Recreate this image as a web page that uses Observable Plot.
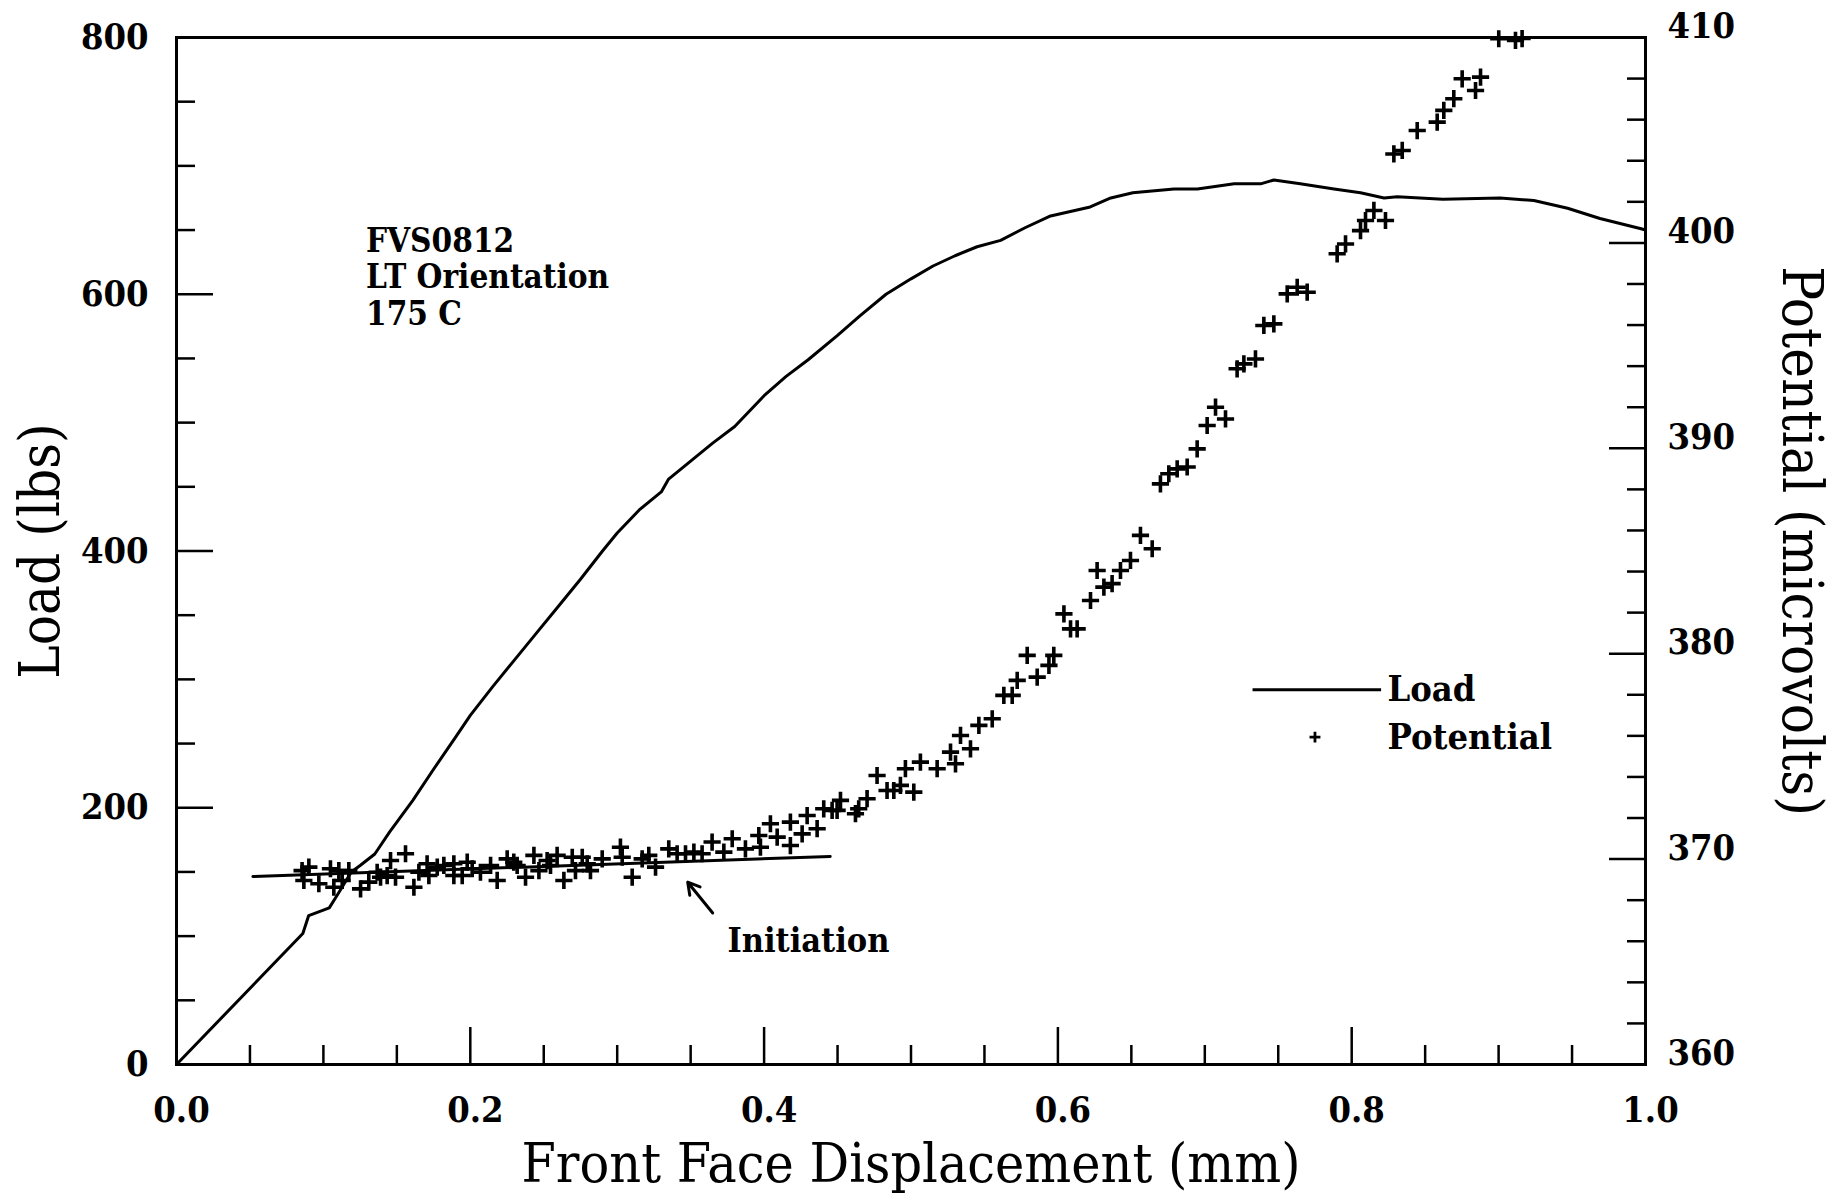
<!DOCTYPE html>
<html><head><meta charset="utf-8">
<script src="https://cdn.jsdelivr.net/npm/d3@7"></script>
<script src="https://cdn.jsdelivr.net/npm/@observablehq/plot@0.6"></script>
<style>
html,body{margin:0;padding:0;background:#fff;}
#chart svg{display:block;}
</style></head><body><div id="chart"></div>
<script>
// ---- Data ----
const loadX = [0, 0.086, 0.090, 0.104, 0.110, 0.119, 0.125, 0.135, 0.145, 0.152, 0.161, 0.175, 0.19, 0.2, 0.215, 0.23, 0.245, 0.26, 0.275, 0.29, 0.3, 0.315, 0.33, 0.335, 0.35, 0.365, 0.38, 0.4, 0.415, 0.43, 0.45, 0.465, 0.483, 0.5, 0.515, 0.53, 0.545, 0.561, 0.578, 0.595, 0.622, 0.636, 0.651, 0.679, 0.695, 0.720, 0.738, 0.747, 0.765, 0.788, 0.806, 0.822, 0.831, 0.862, 0.901, 0.924, 0.947, 0.969, 0.997, 1.0];
const loadLbs = [0, 102, 116, 122, 133, 150, 155, 164, 181, 192, 206, 230, 255, 272, 294, 315, 336, 357, 378, 400, 414, 432, 446, 456, 470, 484, 497, 521, 536, 549, 568, 583, 600, 612, 622, 630, 637, 642, 652, 661, 668, 675, 679, 682, 682, 686, 686, 689, 686, 682, 679, 675, 676, 674, 675, 673, 667, 659, 651, 650];

const potX = [0.0855,0.0901,0.0867,0.0969,0.1048,0.1071,0.1105,0.1173,0.1128,0.1253,0.1309,0.1366,0.1457,0.1559,0.1434,0.1491,0.1389,0.1616,0.1650,0.1706,0.1718,0.1775,0.1820,0.1888,0.1888,0.1945,0.1979,0.2013,0.2069,0.2138,0.2183,0.2251,0.2296,0.2319,0.2376,0.2433,0.2467,0.2523,0.2546,0.2591,0.2637,0.2694,0.2716,0.2762,0.2796,0.2818,0.2898,0.3022,0.3034,0.3102,0.3170,0.3215,0.3261,0.3351,0.3408,0.3465,0.3522,0.3578,0.3646,0.3726,0.3783,
0.3873,0.3975,0.3964,0.4043,0.4089,0.4179,0.4179,0.4259,0.4293,0.4361,0.4406,0.4463,0.4520,0.4497,0.4622,0.4644,0.4701,0.4769,0.4837,0.4883,0.4928,0.5019,0.4962,0.5064,0.5178,0.5269,0.5303,0.5337,0.5405,0.5462,
0.5553,0.5632,0.5689,0.5723,0.5791,0.5859,0.5939,0.5972,0.6041,0.6086,0.6131,0.6222,0.6313,0.6369,0.6267,0.6426,0.6494,0.6562,0.6642,0.6698,0.6755,0.6812,0.6880,
0.6948,0.7016,0.7073,0.7141,0.7220,0.7266,0.7345,0.7402,0.7470,0.7561,0.7629,0.7697,0.7901,0.7958,0.8060,0.8094,0.8151,0.8230,0.8287,0.8344,0.8446,
0.8582,0.8627,0.8695,0.8752,0.8843,0.8877,0.9001,0.9115,0.9160];
const potMicrovolts = [369.44,369.61,368.96,368.80,369.53,368.63,369.44,369.44,368.96,368.55,368.88,369.36,369.93,370.26,369.20,369.12,369.12,368.63,369.36,369.77,369.20,369.61,369.69,369.77,369.20,369.20,369.85,369.53,369.36,369.69,368.96,370.01,369.85,369.69,369.12,370.18,369.44,369.93,369.69,370.18,368.96,370.09,369.44,370.09,369.77,369.44,370.01,370.58,370.09,369.12,370.01,370.18,369.61,370.50,370.26,370.26,370.34,370.26,370.83,370.34,370.99,
370.50,370.58,371.15,371.72,371.07,370.66,371.80,371.23,372.12,371.48,372.45,372.37,372.86,372.37,372.21,372.45,372.94,374.07,373.34,373.34,373.59,373.26,374.40,374.72,374.40,375.21,374.64,376.02,375.37,376.51,
376.83,377.97,377.97,378.70,379.92,378.86,379.43,379.92,381.94,381.21,381.21,382.59,383.24,383.41,384.05,384.05,384.54,385.76,385.11,388.27,388.76,389.00,389.09,
389.97,391.11,392.00,391.43,393.87,394.11,394.35,395.98,396.06,397.52,397.84,397.60,399.47,399.95,400.60,401.09,401.58,401.09,404.33,404.50,405.47,
405.88,406.45,407.02,407.99,407.42,408.07,409.94,409.86,409.95];

const initiationX = [0.052, 0.445];
const initiationMicrovolts = [369.15, 370.13];

const xTicksMajor = [0, 0.2, 0.4, 0.6, 0.8, 1.0];
const xTicksMinor = [0.05,0.1,0.15,0.25,0.3,0.35,0.45,0.5,0.55,0.65,0.7,0.75,0.85,0.9,0.95];
const loadTicksMajor = [0, 200, 400, 600, 800];
const loadTicksMinor = [50,100,150,250,300,350,450,500,550,650,700,750];
const potTicksMajor = [360, 370, 380, 390, 400, 410];
const potTicksMinor = [362,364,366,368,372,374,376,378,382,384,386,388,392,394,396,398,402,404,406,408];

const xLabel = "Front Face Displacement (mm)";
const yLeftLabel = "Load (lbs)";
const yRightLabel = "Potential (microvolts)";
const specimenText = "FVS0812\nLT Orientation\n175 C";
const initiationText = "Initiation";
const legendNames = ["Load", "Potential"];

// ---- Helpers ----
const FONT = '"DejaVu Serif Condensed", "DejaVu Serif", serif';
const P0 = 360, P1 = 410, L0 = 0, L1 = 800;
const potToLoad = p => (p - P0) / (P1 - P0) * (L1 - L0) + L0;
const loadToPot = l => (l - L0) / (L1 - L0) * (P1 - P0) + P0;

const loadData = loadX.map((x, i) => ({x, y: loadLbs[i]}));
const potData = potX.map((x, i) => ({x, v: potMicrovolts[i]}));
const initData = initiationX.map((x, i) => ({x, v: initiationMicrovolts[i]}));

// annotation anchors (data coordinates)
const specimenNote = [{x: 0.129, y: 653, text: specimenText}];
const initNote = [{x: 0.375, y: 96, text: initiationText}];
const initArrow = [{x1: 0.365, y1: 118, x2: 0.348, y2: 142}];
const legendLine = [{x1: 0.7325, x2: 0.820, y: 292}];
const legendMarker = [{x: 0.775, y: 255}];
const legendText = [{x: 0.823, y: 292, text: legendNames[0]}, {x: 0.823, y: 255, text: legendNames[1]}];

const plot = Plot.plot({
  width: 1838,
  height: 1194,
  marginLeft: 176,
  marginRight: 193,
  marginTop: 37,
  marginBottom: 130,
  style: {fontFamily: FONT, fontStretch: "condensed", fontSize: "36px", background: "white", color: "black", overflow: "visible"},
  x: {domain: [0, 1]},
  y: {domain: [0, 800]},
  marks: [
    // minor & major ticks (inward)
    Plot.axisX(xTicksMinor, {anchor: "bottom", tickSize: -19, tickFormat: () => "", label: null, strokeWidth: 2.5}),
    Plot.axisX(xTicksMajor, {anchor: "bottom", tickSize: -37, tickFormat: () => "", label: null, strokeWidth: 2.5}),
    Plot.axisX(xTicksMajor, {anchor: "bottom", tickSize: 0, tickPadding: 32, tickFormat: d3.format(".1f"), label: null, fontSize: 36, fontWeight: "bold", dx: 5}),
    Plot.axisY(loadTicksMinor, {anchor: "left", tickSize: -19, tickFormat: () => "", label: null, strokeWidth: 2.5}),
    Plot.axisY(loadTicksMajor, {anchor: "left", tickSize: -37, tickFormat: () => "", label: null, strokeWidth: 2.5}),
    Plot.axisY(loadTicksMajor, {anchor: "left", tickSize: 0, tickPadding: 28, tickFormat: d3.format("d"), label: null, fontSize: 36, fontWeight: "bold"}),
    Plot.axisY(potTicksMinor.map(potToLoad), {anchor: "right", tickSize: -19, tickFormat: () => "", label: null, strokeWidth: 2.5}),
    Plot.axisY(potTicksMajor.map(potToLoad), {anchor: "right", tickSize: -37, tickFormat: () => "", label: null, strokeWidth: 2.5}),
    Plot.axisY(potTicksMajor.map(potToLoad), {anchor: "right", tickSize: 0, tickPadding: 22, tickFormat: d => d3.format("d")(Math.round(loadToPot(d))), label: null, fontSize: 36, fontWeight: "bold", dy: -11}),
    // axis titles
    Plot.text([xLabel], {frameAnchor: "bottom", textAnchor: "middle", dy: 100, fontSize: 55, lineAnchor: "middle"}),
    Plot.text([yLeftLabel], {frameAnchor: "left", textAnchor: "middle", dx: -135, rotate: -90, fontSize: 56, lineAnchor: "middle"}),
    Plot.text([yRightLabel], {frameAnchor: "right", textAnchor: "middle", dx: 155, dy: -10, rotate: 90, fontSize: 56, lineAnchor: "middle"}),
    // data
    Plot.line(loadData, {x: "x", y: "y", stroke: "black", strokeWidth: 3}),
    Plot.line(initData, {x: "x", y: d => potToLoad(d.v), stroke: "black", strokeWidth: 3}),
    Plot.dot(potData, {x: "x", y: d => potToLoad(d.v), symbol: "plus", r: 5.6, stroke: "black", strokeWidth: 3.6}),
    // annotations
    Plot.text(specimenNote, {x: "x", y: "y", text: "text", textAnchor: "start", lineAnchor: "top", lineHeight: 1.1, fontSize: 33, fontWeight: "bold"}),
    Plot.text(initNote, {x: "x", y: "y", text: "text", textAnchor: "start", lineAnchor: "middle", fontSize: 34, fontWeight: "bold"}),
    Plot.arrow(initArrow, {x1: "x1", y1: "y1", x2: "x2", y2: "y2", stroke: "black", strokeWidth: 3, headLength: 14}),
    // legend
    Plot.link(legendLine, {x1: "x1", x2: "x2", y1: "y", y2: "y", stroke: "black", strokeWidth: 3}),
    Plot.dot(legendMarker, {x: "x", y: "y", symbol: "plus", r: 3.6, stroke: "black", strokeWidth: 2.8}),
    Plot.text(legendText, {x: "x", y: "y", text: "text", textAnchor: "start", lineAnchor: "middle", fontSize: 36, fontWeight: "bold", dx: 2}),
    Plot.frame({stroke: "black", strokeWidth: 3})
  ]
});
document.getElementById("chart").append(plot);
</script>
</body></html>
